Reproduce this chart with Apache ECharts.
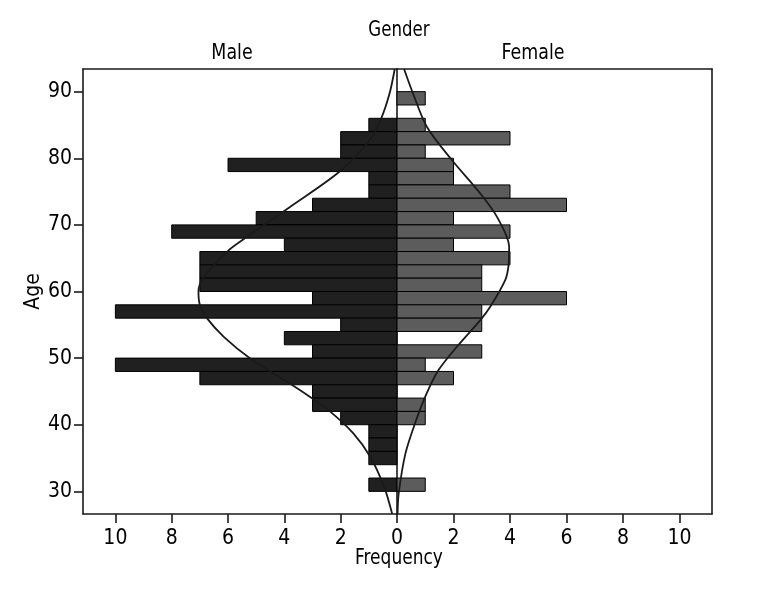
<!DOCTYPE html>
<html>
<head>
<meta charset="utf-8">
<script src="https://cdn.jsdelivr.net/npm/echarts@6.0.0/dist/echarts.min.js"></script>
<style>
html,body{margin:0;padding:0;background:#fff;}
#chart{width:768px;height:600px;}
</style>
</head>
<body>
<div id="chart"></div>
<script>
// Bin lower edges (2-year bins), from top to bottom
const binStarts = [88,86,84,82,80,78,76,74,72,70,68,66,64,62,60,58,56,54,52,50,48,46,44,42,40,38,36,34,32,30];
const maleCounts = [0,0,1,2,2,6,1,1,3,5,8,4,7,7,7,3,10,2,4,3,10,7,3,3,2,1,1,1,0,1];
const femaleCounts = [1,0,1,4,1,2,2,4,6,2,4,2,4,3,3,6,3,3,0,3,1,2,0,1,1,0,0,0,0,1];
const binWidth = 2;

// Fitted curves: age -> frequency
const maleCurveAge = [26.6,30.6,35.2,38.7,41.9,44.2,46.7,49.9,53.2,56,58,60,62.2,66.1,67.7,72.7,77.9,82.7,86,89.8,93.4];
const maleCurveVal = [0.17,0.45,0.95,1.55,2.35,3.1,4.0,5.2,6.15,6.75,7.0,7.05,6.85,6.0,5.5,3.8,2.07,0.97,0.56,0.26,0.08];
const femaleCurveAge = [26.6,29.7,35.7,40.7,44.7,48.2,51.7,55.7,57.7,61.7,64,66.7,71.2,74.7,79.7,84.7,89.8,93.4];
const femaleCurveVal = [0.02,0.06,0.3,0.68,1.05,1.47,2.12,2.95,3.3,3.83,3.95,3.97,3.54,2.95,1.95,1.06,0.56,0.25];

const ageTicks = [30,40,50,60,70,80,90];
const freqTicksLeft = [0,2,4,6,8,10];
const freqTicksRight = [2,4,6,8,10];

const FONT = '"Liberation Sans Narrow","Arial Narrow","DejaVu Sans Condensed",sans-serif';
const INK = '#1a1a1a';
const AX = {show:true, onZero:false, lineStyle:{color:INK,width:1.6}};
const xMax = 11.15, yMin = 26.6, yMax = 93.4;

function barRender(color){
  return function(params, api){
    const lo = api.value(0), v = api.value(1);
    if (!v) return null;
    const p0 = api.coord([0, lo]);
    const p1 = api.coord([v, lo + binWidth]);
    return {
      type:'rect',
      shape:{x:Math.min(p0[0],p1[0]), y:Math.min(p0[1],p1[1]),
             width:Math.abs(p1[0]-p0[0]), height:Math.abs(p1[1]-p0[1])},
      style:{fill:color, stroke:'#000', lineWidth:1}
    };
  };
}

const chart = echarts.init(document.getElementById('chart'), null, {renderer:'canvas'});
const baseX = {type:'value', min:0, max:xMax, splitLine:{show:false}};
const baseY = {type:'value', min:yMin, max:yMax, splitLine:{show:false}};
const tickStyle = {color:INK,width:1.6};
const labelStyle = {show:true, fontSize:21, fontFamily:FONT, color:'#000'};
chart.setOption({
  animation:false,
  backgroundColor:'#fff',
  grid:[
    {left:83, top:69, width:314, height:445},
    {left:397, top:69, width:315, height:445}
  ],
  xAxis:[
    Object.assign({}, baseX, {gridIndex:0, position:'bottom', inverse:true,
      axisLine:AX,
      axisTick:{show:true, length:9, lineStyle:tickStyle, customValues:freqTicksLeft},
      axisLabel:Object.assign({margin:14, customValues:freqTicksLeft}, labelStyle)}),
    Object.assign({}, baseX, {gridIndex:1, position:'bottom',
      axisLine:AX,
      axisTick:{show:true, length:9, lineStyle:tickStyle, customValues:freqTicksRight},
      axisLabel:Object.assign({margin:14, customValues:freqTicksRight}, labelStyle)}),
    Object.assign({}, baseX, {gridIndex:0, position:'top', inverse:true,
      axisLine:AX, axisTick:{show:false}, axisLabel:{show:false}}),
    Object.assign({}, baseX, {gridIndex:1, position:'top',
      axisLine:AX, axisTick:{show:false}, axisLabel:{show:false}})
  ],
  yAxis:[
    Object.assign({}, baseY, {gridIndex:0, position:'left',
      axisLine:AX,
      axisTick:{show:true, length:9, lineStyle:tickStyle, customValues:ageTicks},
      axisLabel:Object.assign({margin:11, customValues:ageTicks}, labelStyle),
      name:'Age', nameLocation:'middle', nameGap:38, nameRotate:90,
      nameTextStyle:{fontSize:21, fontFamily:FONT, color:'#000'}}),
    Object.assign({}, baseY, {gridIndex:1, position:'left',
      axisLine:AX, axisTick:{show:false}, axisLabel:{show:false}}),
    Object.assign({}, baseY, {gridIndex:1, position:'right',
      axisLine:AX, axisTick:{show:false}, axisLabel:{show:false}})
  ],
  graphic:[
    {type:'text', x:399, y:31, scaleX:0.88, style:{text:'Gender', textAlign:'center', textVerticalAlign:'middle', font:'21px '+FONT, fill:'#000'}},
    {type:'text', x:232, y:53, scaleX:0.88, style:{text:'Male', textAlign:'center', textVerticalAlign:'middle', font:'22px '+FONT, fill:'#000'}},
    {type:'text', x:533, y:53, scaleX:0.88, style:{text:'Female', textAlign:'center', textVerticalAlign:'middle', font:'22px '+FONT, fill:'#000'}},
    {type:'text', x:399, y:558, scaleX:0.86, style:{text:'Frequency', textAlign:'center', textVerticalAlign:'middle', font:'22px '+FONT, fill:'#000'}}
  ],
  series:[
    {type:'custom', xAxisIndex:0, yAxisIndex:0, encode:{x:1, y:0},
     renderItem:barRender('#202020'),
     data:binStarts.map((b,i)=>[b, maleCounts[i]]), z:2},
    {type:'custom', xAxisIndex:1, yAxisIndex:1, encode:{x:1, y:0},
     renderItem:barRender('#5c5c5c'),
     data:binStarts.map((b,i)=>[b, femaleCounts[i]]), z:2},
    {type:'line', xAxisIndex:0, yAxisIndex:0, smooth:0.3, showSymbol:false, symbol:'none',
     lineStyle:{color:'#1a1a1a', width:1.8},
     data:maleCurveAge.map((a,i)=>[maleCurveVal[i], a]), z:5},
    {type:'line', xAxisIndex:1, yAxisIndex:1, smooth:0.3, showSymbol:false, symbol:'none',
     lineStyle:{color:'#1a1a1a', width:1.8},
     data:femaleCurveAge.map((a,i)=>[femaleCurveVal[i], a]), z:5}
  ]
});
</script>
</body>
</html>
